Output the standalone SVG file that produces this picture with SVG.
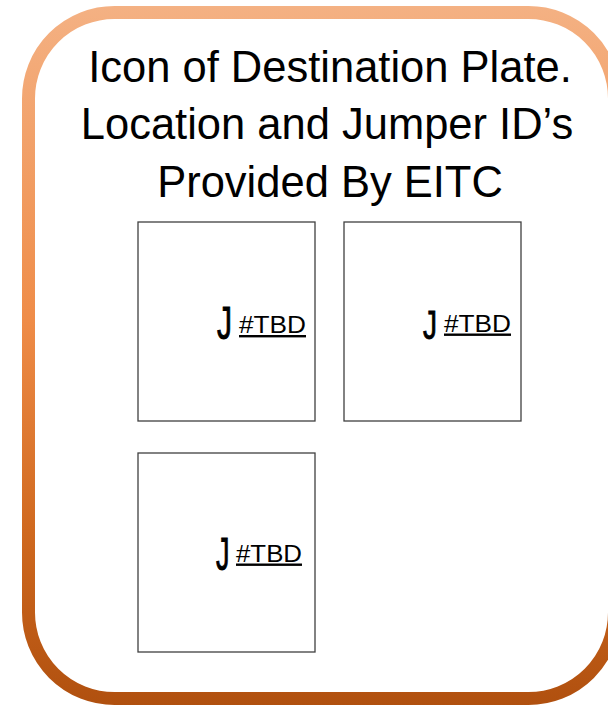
<svg xmlns="http://www.w3.org/2000/svg" width="608" height="707" viewBox="0 0 608 707">
  <defs>
    <linearGradient id="frameGrad" gradientUnits="userSpaceOnUse" x1="0" y1="6" x2="0" y2="705">
      <stop offset="0" stop-color="#F4B183"/>
      <stop offset="0.45" stop-color="#EF8C48"/>
      <stop offset="0.75" stop-color="#D0691F"/>
      <stop offset="1" stop-color="#B0500F"/>
    </linearGradient>
  </defs>
  <style>
    .title { font-family: "Liberation Sans", Arial, sans-serif; font-size: 43.5px; fill: #000; text-anchor: middle; }
    .plate { fill: #FFFFFF; stroke: #404040; stroke-width: 1.3; }
    .j { font-family: "Liberation Sans", Arial, sans-serif; fill: #000; stroke: #000; stroke-width: 0.9; }
    .tbd { font-family: "Liberation Sans", Arial, sans-serif; font-size: 24px; fill: #000; text-decoration: underline; }
  </style>
  <rect width="608" height="707" fill="#FFFFFF"/>
  <g id="frame">
    <rect x="28.5" y="12.5" width="586" height="686" rx="86" ry="86" fill="#FFFFFF" stroke="url(#frameGrad)" stroke-width="13"/>
  </g>
  <g id="title">
    <text class="title" x="330" y="82">Icon of Destination Plate.</text>
    <text class="title" x="327" y="139">Location and Jumper ID’s</text>
    <text class="title" x="330" y="197">Provided By EITC</text>
  </g>
  <g id="plate1">
    <rect class="plate" x="138" y="222" width="177" height="199"/>
    <text class="j" x="217" y="339" font-size="46" textLength="15" lengthAdjust="spacingAndGlyphs">J</text>
    <text class="tbd" x="239" y="333" textLength="67" lengthAdjust="spacingAndGlyphs">#TBD</text>
  </g>
  <g id="plate2">
    <rect class="plate" x="344" y="222" width="177" height="199"/>
    <text class="j" x="423" y="339" font-size="40" textLength="14" lengthAdjust="spacingAndGlyphs">J</text>
    <text class="tbd" x="444" y="331.5" textLength="67" lengthAdjust="spacingAndGlyphs">#TBD</text>
  </g>
  <g id="plate3">
    <rect class="plate" x="138" y="453" width="177" height="199"/>
    <text class="j" x="216" y="569.5" font-size="46" textLength="13.5" lengthAdjust="spacingAndGlyphs">J</text>
    <text class="tbd" x="236" y="561.5" textLength="66" lengthAdjust="spacingAndGlyphs">#TBD</text>
  </g>
</svg>
